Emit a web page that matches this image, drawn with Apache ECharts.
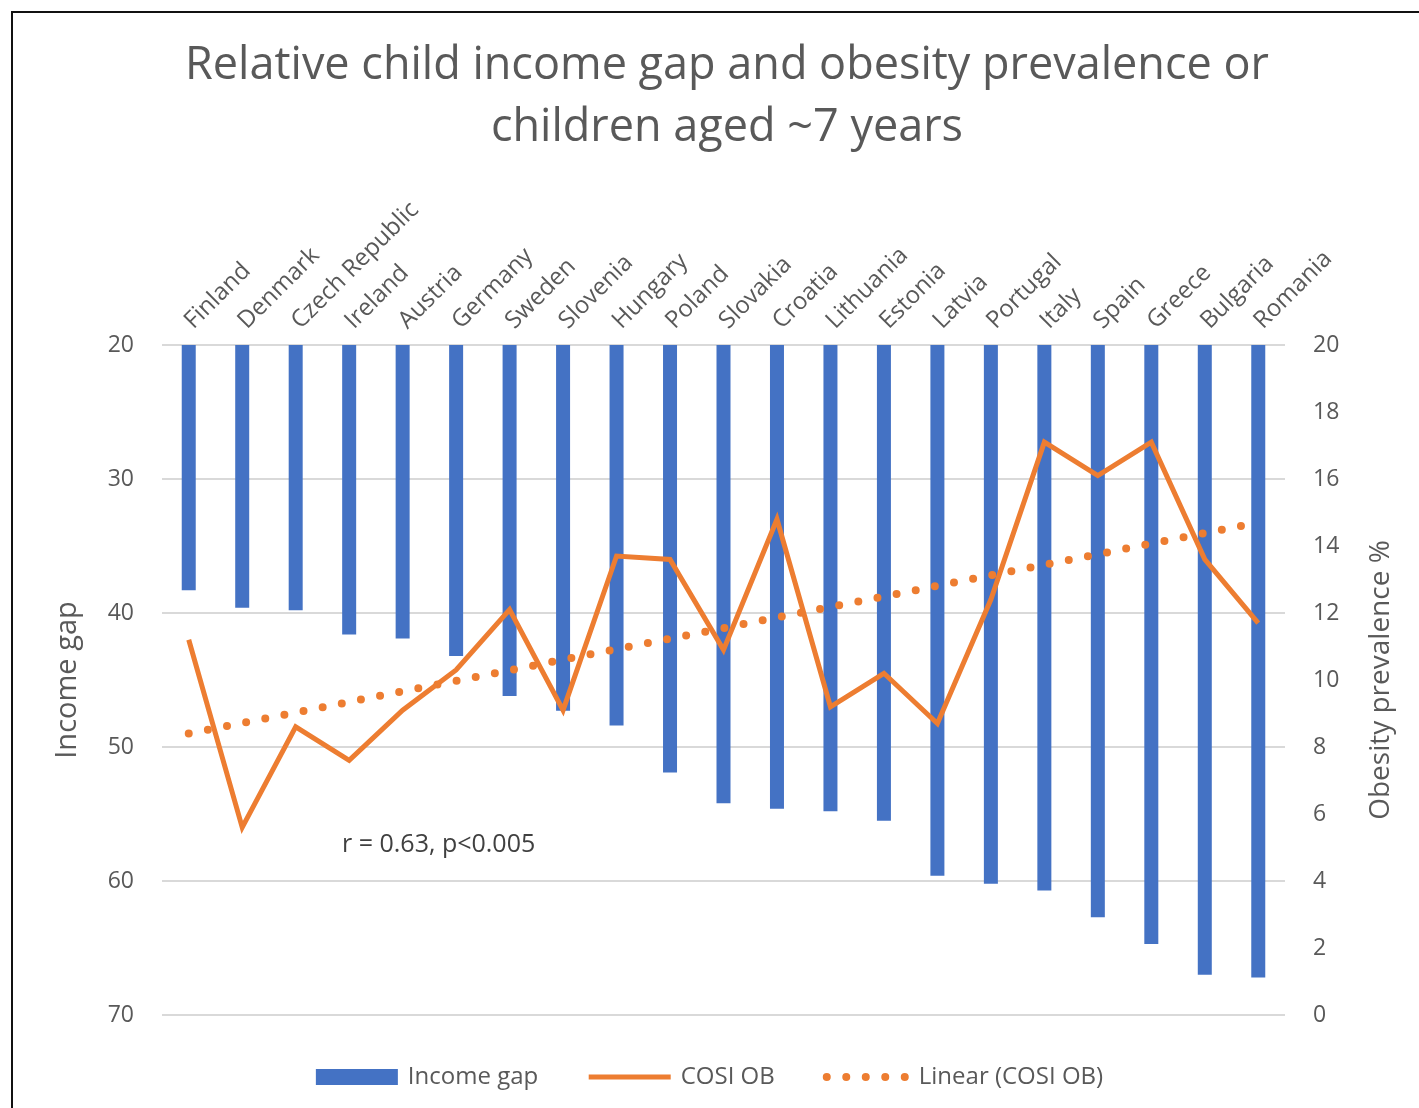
<!DOCTYPE html>
<html>
<head>
<meta charset="utf-8">
<script src="https://cdn.jsdelivr.net/npm/echarts@6/dist/echarts.min.js"></script>
<style>
  html, body { margin: 0; padding: 0; background: #fff; }
  #chart { width: 1419px; height: 1108px; }
  #frame { position: absolute; left: 11px; top: 11px; width: 1420px; height: 1110px; border: 2px solid #111; pointer-events: none; }
</style>
</head>
<body>
<div id="chart"></div>
<div id="frame"></div>
<script>
// countries, sorted by income gap
const countries = ['Finland', 'Denmark', 'Czech Republic', 'Ireland', 'Austria', 'Germany', 'Sweden',
  'Slovenia', 'Hungary', 'Poland', 'Slovakia', 'Croatia', 'Lithuania', 'Estonia', 'Latvia',
  'Portugal', 'Italy', 'Spain', 'Greece', 'Bulgaria', 'Romania']

// income gap (left axis, inverted)
const incomeGap = [38.3, 39.6, 39.8, 41.6, 41.9, 43.2, 46.2, 47.3, 48.4, 51.9, 54.2,
  54.6, 54.8, 55.5, 59.6, 60.2, 60.7, 62.7, 64.7, 67.0, 67.2]

// COSI obesity prevalence % (right axis)
const cosiOb = [11.2, 5.6, 8.6, 7.6, 9.1, 10.3, 12.1, 9.1, 13.7, 13.6, 10.9,
  14.8, 9.2, 10.2, 8.7, 12.4, 17.1, 16.1, 17.1, 13.6, 11.7]

// linear trend line, value at first and last country
const trendEnds = [8.4, 14.7]

const FONT = 'Open Sans'
const GREY = '#595959'
const ORANGE = '#ED7D31'

const trendData = countries.map((c, i) =>
  i === 0 ? trendEnds[0] : (i === countries.length - 1 ? trendEnds[1] : null))

const chart = echarts.init(document.getElementById('chart'))

const option = {
  animation: false,
  textStyle: { fontFamily: FONT },
  title: {
    text: 'Relative child income gap and obesity prevalence or\nchildren aged ~7 years',
    left: 722,
    textAlign: 'center',
    top: 30,
    textStyle: { fontSize: 45, fontWeight: 'normal', color: GREY, lineHeight: 62, fontFamily: FONT }
  },
  grid: { left: 162, right: 134, top: 345, bottom: 93 },
  legend: {
    bottom: 14,
    left: 'center',
    itemWidth: 82,
    itemHeight: 16,
    itemGap: 48,
    textStyle: { fontSize: 24, color: GREY, fontFamily: FONT, padding: [0, 0, 0, 5] },
    data: [
      { name: 'Income gap', icon: 'rect' },
      { name: 'COSI OB', itemStyle: { opacity: 0 }, lineStyle: { width: 5 } },
      { name: 'Linear (COSI OB)', itemStyle: { opacity: 0 }, lineStyle: { width: 8 } }
    ]
  },
  xAxis: {
    type: 'category',
    position: 'top',
    data: countries,
    axisLine: { show: false },
    axisTick: { show: false },
    axisLabel: { rotate: 45, margin: 20, fontSize: 24, color: GREY, interval: 0 }
  },
  yAxis: [
    {
      type: 'value',
      inverse: true,
      min: 20,
      max: 70,
      interval: 10,
      name: 'Income gap',
      nameLocation: 'middle',
      nameRotate: 90,
      nameGap: 80,
      nameTextStyle: { fontSize: 29, color: GREY },
      axisLine: { show: false },
      axisTick: { show: false },
      axisLabel: { fontSize: 23, color: GREY, margin: 28 },
      splitLine: { lineStyle: { color: '#d9d9d9', width: 2 } }
    },
    {
      type: 'value',
      min: 0,
      max: 20,
      interval: 2,
      name: 'Obesity prevalence %',
      nameLocation: 'middle',
      nameRotate: 90,
      nameGap: 82,
      nameTextStyle: { fontSize: 28, color: GREY },
      axisLine: { show: false },
      axisTick: { show: false },
      axisLabel: { fontSize: 23, color: GREY, margin: 28 },
      splitLine: { show: false }
    }
  ],
  series: [
    {
      name: 'Income gap',
      type: 'bar',
      yAxisIndex: 0,
      barWidth: 14,
      clip: true,
      itemStyle: { color: '#4472C4' },
      data: incomeGap
    },
    {
      name: 'COSI OB',
      type: 'line',
      yAxisIndex: 1,
      symbol: 'none',
      lineStyle: { color: ORANGE, width: 5, join: 'miter' },
      itemStyle: { color: ORANGE },
      data: cosiOb,
      z: 4
    },
    {
      name: 'Linear (COSI OB)',
      type: 'line',
      yAxisIndex: 1,
      symbol: 'none',
      connectNulls: true,
      lineStyle: { color: ORANGE, width: 8, type: [0, 19.5], cap: 'round' },
      itemStyle: { color: ORANGE },
      data: trendData,
      z: 3
    }
  ],
  graphic: [
    {
      type: 'text',
      left: 342,
      top: 832,
      style: { text: 'r = 0.63, p<0.005', fontSize: 25, fill: '#404040', fontFamily: FONT }
    }
  ]
}

chart.setOption(option)
</script>
</body>
</html>
